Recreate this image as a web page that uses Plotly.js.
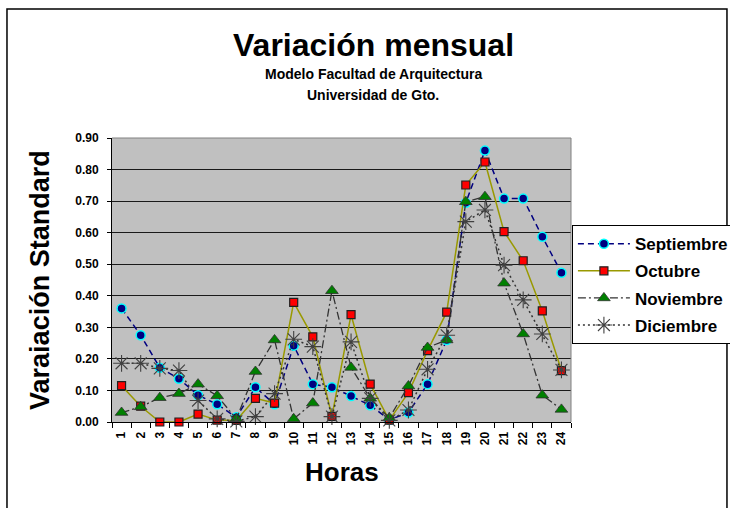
<!DOCTYPE html>
<html>
<head>
<meta charset="utf-8">
<script src="https://cdn.plot.ly/plotly-3.0.1.min.js"></script>
<style>html,body{margin:0;padding:0;background:#fff;}#chart{width:730px;height:508px;}</style>
</head>
<body>
<div id="chart"></div>
<script>
var horas = ['1','2','3','4','5','6','7','8','9','10','11','12','13','14','15','16','17','18','19','20','21','22','23','24'];
var septiembre = [0.36,0.275,0.172,0.137,0.085,0.056,0.015,0.11,0.056,0.242,0.12,0.11,0.082,0.053,0.007,0.03,0.12,0.26,0.695,0.86,0.708,0.708,0.587,0.473];
var octubre = [0.115,0.05,0.0,0.0,0.025,0.006,0.005,0.075,0.06,0.379,0.27,0.018,0.34,0.12,0.006,0.093,0.226,0.348,0.751,0.824,0.603,0.511,0.352,0.163];
var noviembre = [0.03,0.048,0.077,0.09,0.12,0.083,0.01,0.16,0.26,0.01,0.06,0.416,0.173,0.075,0.013,0.114,0.236,0.26,0.698,0.714,0.44,0.279,0.085,0.04];
var diciembre = [0.186,0.186,0.17,0.163,0.068,0.01,0.002,0.017,0.09,0.262,0.239,0.017,0.254,0.075,0.005,0.038,0.167,0.275,0.635,0.672,0.497,0.387,0.279,0.165];
var serieNames = ['Septiembre','Octubre','Noviembre','Diciembre'];

var FONT = '"Liberation Sans", Arial, sans-serif';

var traces = [
  {x: horas, y: septiembre, name: serieNames[0], type: 'scatter', mode: 'lines+markers', legendgroup: 'a',
   line: {color: '#000080', dash: '6px,4px', width: 1.5},
   marker: {symbol: 'circle', size: 9, color: '#000080', line: {color: '#00FFFF', width: 1.5}}, cliponaxis: false},
  {x: horas, y: octubre, name: serieNames[1], type: 'scatter', mode: 'lines+markers', legendgroup: 'b',
   line: {color: '#999900', width: 1.5},
   marker: {symbol: 'square', size: 8, color: '#FF0000', line: {color: '#202020', width: 1.2}}, cliponaxis: false},
  {x: horas, y: noviembre, name: serieNames[2], type: 'scatter', mode: 'lines+markers', legendgroup: 'c',
   line: {color: '#333333', dash: '8px,3px,2px,3px', width: 1.3},
   marker: {symbol: 'triangle-up', size: 11, color: '#008000', line: {color: '#303030', width: 0.8}}, cliponaxis: false},
  {x: horas, y: diciembre, name: serieNames[3], type: 'scatter', mode: 'lines+markers', legendgroup: 'd',
   line: {color: '#333333', dash: '2px,3px', width: 1.5},
   marker: {symbol: 'asterisk-open', size: 14, color: '#404040', line: {color: '#404040', width: 1.1}}, cliponaxis: false}
];

var layout = {
  width: 730, height: 508,
  margin: {l: 112, r: 159, t: 138, b: 86, pad: 0, autoexpand: false},
  paper_bgcolor: '#FFFFFF',
  plot_bgcolor: '#C0C0C0',
  font: {family: FONT, color: '#000'},
  showlegend: true,
  legend: {
    x: 1.002, xanchor: 'left', y: 0.693, yanchor: 'top',
    bgcolor: '#FFFFFF', bordercolor: '#000000', borderwidth: 1,
    font: {family: FONT, size: 17, weight: 'bold', color: '#000'},
    traceorder: 'grouped', tracegroupgap: 2, itemwidth: 52
  },
  xaxis: {
    type: 'category',
    range: [-0.5, 23.5], autorange: false,
    tickson: 'boundaries',
    ticks: 'outside', ticklen: 5, tickcolor: '#000', tickwidth: 1,
    tickangle: -90, ticklabelstandoff: 4,
    tickfont: {family: FONT, size: 12, weight: 'bold', color: '#000'},
    showline: true, linecolor: '#000', linewidth: 1,
    showgrid: false, zeroline: false, fixedrange: true
  },
  yaxis: {
    range: [0, 0.9], autorange: false, dtick: 0.1, tick0: 0, tickformat: '.2f',
    ticks: 'outside', ticklen: 4, tickcolor: '#000', tickwidth: 1,
    ticklabelstandoff: 6,
    tickfont: {family: FONT, size: 12, weight: 'bold', color: '#000'},
    showline: true, linecolor: '#000', linewidth: 1,
    showgrid: true, gridcolor: '#1a1a1a', gridwidth: 1,
    zeroline: false, fixedrange: true
  },
  shapes: [
    {type: 'path', xref: 'paper', yref: 'paper', path: 'M 0,1 L 1,1 L 1,0', line: {color: '#808080', width: 1}},
    {type: 'rect', xref: 'paper', yref: 'paper', x0: -0.2288, x1: 1.3398, y0: -0.33, y1: 1.4542, line: {color: '#000', width: 1.5}, fillcolor: 'rgba(0,0,0,0)'}
  ],
  annotations: [
    {text: 'Variación mensual', xref: 'paper', yref: 'paper', x: 0.569, y: 1.327, xanchor: 'center', yanchor: 'middle', showarrow: false,
     font: {family: FONT, size: 32, weight: 'bold', color: '#000'}},
    {text: 'Modelo Facultad de Arquitectura', xref: 'paper', yref: 'paper', x: 0.569, y: 1.225, xanchor: 'center', yanchor: 'middle', showarrow: false,
     font: {family: FONT, size: 14, weight: 'bold', color: '#000'}},
    {text: 'Universidad de Gto.', xref: 'paper', yref: 'paper', x: 0.569, y: 1.151, xanchor: 'center', yanchor: 'middle', showarrow: false,
     font: {family: FONT, size: 14, weight: 'bold', color: '#000'}},
    {text: 'Varaiación Standard', xref: 'paper', yref: 'paper', x: -0.157, y: 0.5, xanchor: 'center', yanchor: 'middle', textangle: -90, showarrow: false,
     font: {family: FONT, size: 27, weight: 'bold', color: '#000'}},
    {text: 'Horas', xref: 'paper', yref: 'paper', x: 0.5, y: -0.176, xanchor: 'center', yanchor: 'middle', showarrow: false,
     font: {family: FONT, size: 26, weight: 'bold', color: '#000'}}
  ]
};

Plotly.newPlot('chart', traces, layout, {displayModeBar: false, staticPlot: true});
</script>
</body>
</html>
